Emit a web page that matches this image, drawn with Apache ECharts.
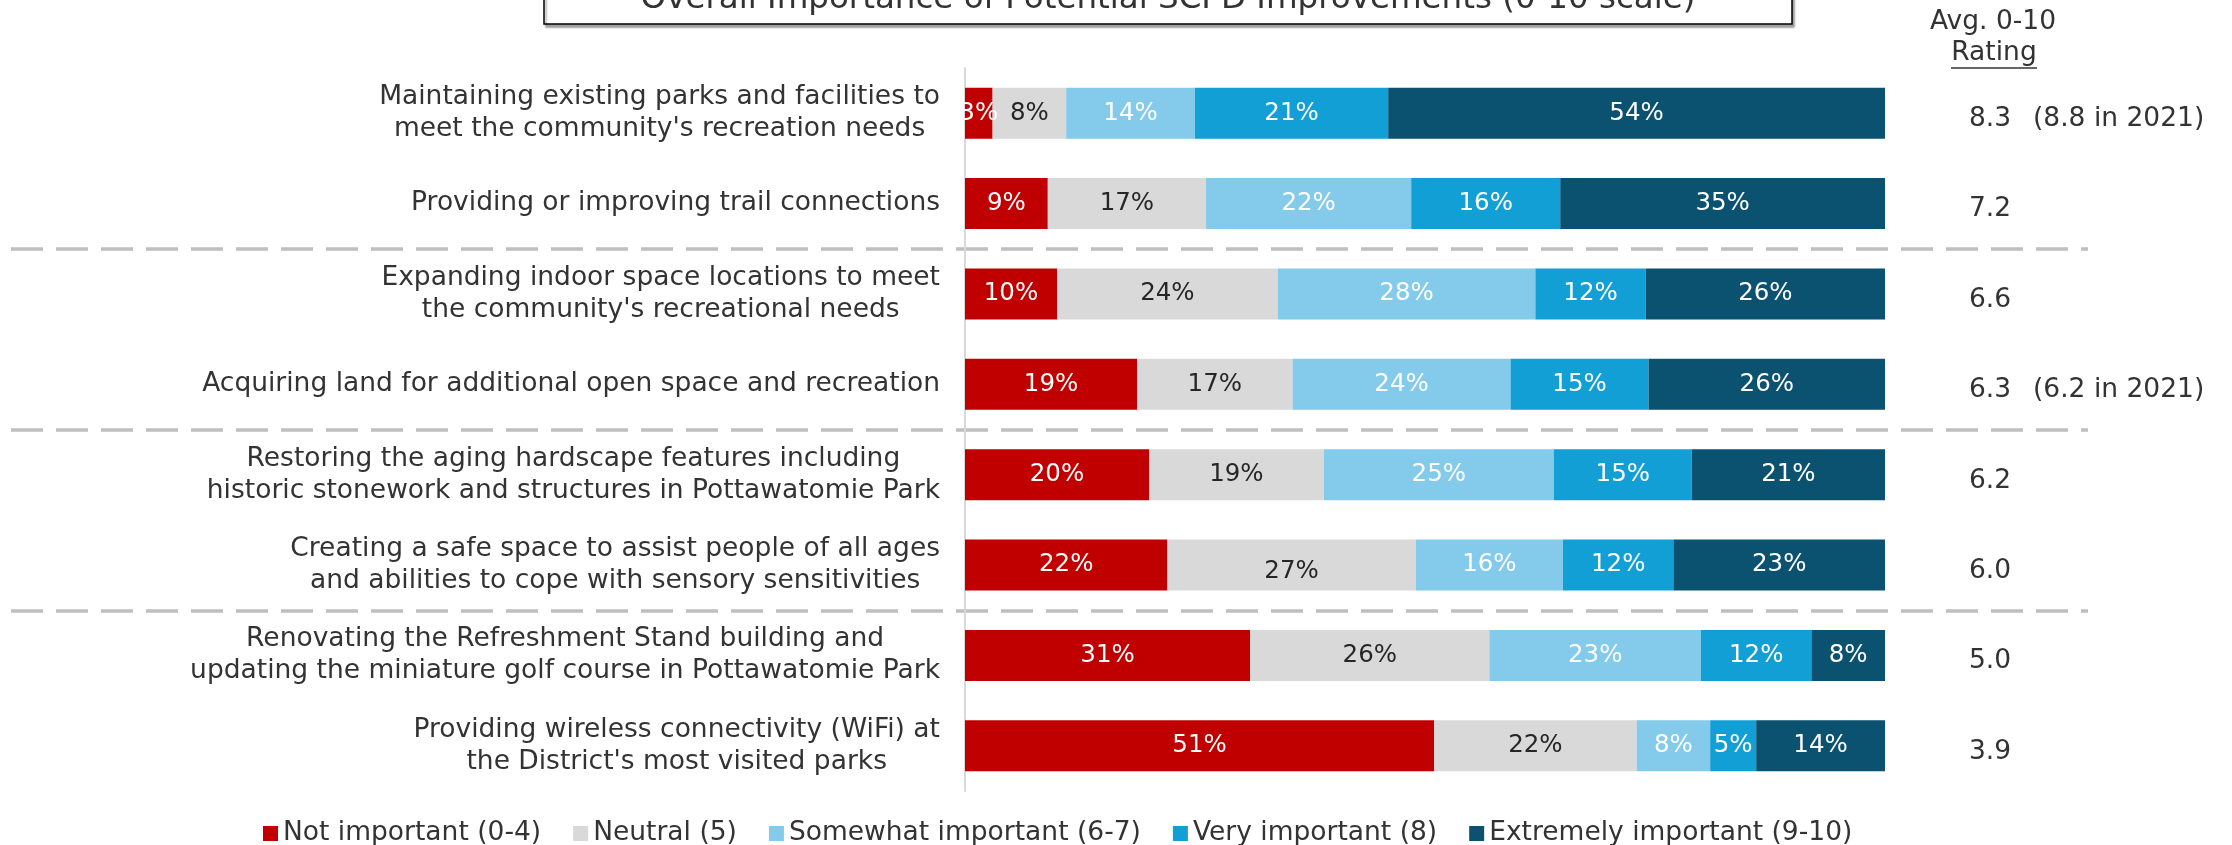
<!DOCTYPE html>
<html>
<head>
<meta charset="utf-8">
<script src="https://cdn.jsdelivr.net/npm/echarts@6/dist/echarts.min.js"></script>
<style>
  html, body { margin: 0; padding: 0; background: #fff; }
  #chart { width: 2232px; height: 845px; }
</style>
</head>
<body>
<div id="chart"></div>
<script>
// categories top to bottom
var categories = [
  "Maintaining existing parks and facilities to\nmeet the community's recreation needs",
  "Providing or improving trail connections",
  "Expanding indoor space locations to meet\nthe community's recreational needs",
  "Acquiring land for additional open space and recreation",
  "Restoring the aging hardscape features including\nhistoric stonework and structures in Pottawatomie Park",
  "Creating a safe space to assist people of all ages\nand abilities to cope with sensory sensitivities",
  "Renovating the Refreshment Stand building and\nupdating the miniature golf course in Pottawatomie Park",
  "Providing wireless connectivity (WiFi) at\nthe District's most visited parks"
];

var seriesNames = ['Not important (0-4)', 'Neutral (5)', 'Somewhat important (6-7)', 'Very important (8)', 'Extremely important (9-10)'];

// percentages, one array per response group
var notImportant = [3, 9.0, 10, 18.7, 20, 22, 31, 51];
var neutral      = [8, 17.2, 24, 16.9, 19, 27, 26, 22];
var somewhat     = [14, 22.3, 28, 23.7, 25, 16, 23, 8];
var very         = [21, 16.2, 12, 15.0, 15, 12, 12, 5];
var extremely    = [54, 35.3, 26, 25.7, 21, 23, 8, 14];

var ratings = ['8.3', '7.2', '6.6', '6.3', '6.2', '6.0', '5.0', '3.9'];
var ratings2021 = ['8.8', null, null, '6.2', null, null, null, null];

var colors = ['#C00000', '#D9D9D9', '#83CAEB', '#129FD6', '#0B5170'];
var labelColors = ['#fff', '#262626', '#fff', '#fff', '#fff'];
var TEXT = '#333333';
var FONT = 'DejaVu Sans';
var FS = 26.5;

var myChart = echarts.init(document.getElementById('chart'));

var values = [notImportant, neutral, somewhat, very, extremely];
var series = values.map(function (d, i) {
  return {
    name: seriesNames[i],
    type: 'bar',
    stack: 'total',
    barWidth: 51,
    xAxisIndex: 0,
    yAxisIndex: 0,
    itemStyle: { color: colors[i] },
    label: {
      show: true,
      position: 'inside',
      color: labelColors[i],
      fontFamily: FONT,
      fontSize: 24.5,
      formatter: function (p) { return Math.round(p.value) + '%'; }
    },
    data: d.map(function (v, j) {
      // the neutral label in the sensory row sits a little low in the original
      if (i === 1 && j === 5) return { value: v, label: { offset: [0, 7] } };
      return v;
    })
  };
});

var option = {
  animation: false,
  textStyle: { fontFamily: FONT },
  grid: [
    { left: 965, right: 347, top: 68, bottom: 54 },
    { left: 11, right: 144, top: 68, bottom: 54 }
  ],
  legend: {
    data: seriesNames,
    left: 258,
    top: 815,
    icon: 'rect',
    itemWidth: 15,
    itemHeight: 15,
    itemGap: 32,
    textStyle: { fontFamily: FONT, fontSize: FS, color: TEXT }
  },
  xAxis: [
    { type: 'value', gridIndex: 0, min: 0, max: 100, show: false },
    { type: 'value', gridIndex: 1, min: 0, max: 1, show: false }
  ],
  yAxis: [
    {
      type: 'category',
      gridIndex: 0,
      inverse: true,
      data: categories,
      axisLine: { show: true, lineStyle: { color: '#D9D9D9', width: 2 } },
      axisTick: { show: false },
      axisLabel: {
        margin: 25,
        align: 'right',
        fontSize: FS,
        lineHeight: 32,
        color: TEXT,
        formatter: function (v) {
          return v.split('\n').map(function (s) { return '{c|' + s + '}'; }).join('\n');
        },
        rich: { c: { align: 'center', fontSize: FS, lineHeight: 32, color: TEXT, fontFamily: FONT } }
      }
    },
    {
      type: 'category',
      gridIndex: 0,
      position: 'right',
      inverse: true,
      data: ratings,
      axisLine: { show: false },
      axisTick: { show: false },
      axisLabel: {
        margin: 84,
        align: 'left',
        padding: [12, 0, 0, 0],
        formatter: function (v, i) {
          var s = '{n|' + v + '}';
          if (ratings2021[i]) s += '{p|(' + ratings2021[i] + ' in 2021)}';
          return s;
        },
        rich: {
          n: { width: 64, fontSize: FS, color: TEXT, fontFamily: FONT },
          p: { fontSize: FS, color: TEXT, fontFamily: FONT }
        }
      }
    },
    {
      // separators between groups of rows
      type: 'value',
      gridIndex: 1,
      inverse: true,
      min: 0,
      max: 8,
      interval: 2,
      axisLine: { show: false },
      axisTick: { show: false },
      axisLabel: { show: false },
      splitLine: {
        show: true,
        showMinLine: false,
        showMaxLine: false,
        lineStyle: { color: '#BFBFBF', width: 3.5, type: [32, 13] }
      }
    }
  ],
  graphic: [
    {
      type: 'rect',
      shape: { x: 544, y: -30, width: 1248, height: 54 },
      style: { fill: '#fff', stroke: '#000', lineWidth: 1.5, shadowColor: 'rgba(0,0,0,0.35)', shadowOffsetX: 2, shadowOffsetY: 3, shadowBlur: 2 },
      z: 10
    },
    {
      type: 'text',
      x: 1168, y: 0,
      style: { text: 'Overall Importance of Potential SCPD Improvements (0-10 scale)', fontFamily: FONT, fontSize: 32.5, fill: TEXT, align: 'center', verticalAlign: 'middle' },
      z: 11
    },
    {
      type: 'text',
      x: 1993, y: 22,
      style: { text: 'Avg. 0-10', fontFamily: FONT, fontSize: FS, fill: TEXT, align: 'center', verticalAlign: 'middle' }
    },
    {
      type: 'text',
      x: 1994, y: 53,
      style: { text: 'Rating', fontFamily: FONT, fontSize: FS, fill: TEXT, align: 'center', verticalAlign: 'middle' }
    },
    {
      type: 'line',
      shape: { x1: 1951, y1: 68, x2: 2037, y2: 68 },
      style: { stroke: TEXT, lineWidth: 1.5 }
    }
  ],
  series: series
};

option && myChart.setOption(option);
</script>
</body>
</html>
